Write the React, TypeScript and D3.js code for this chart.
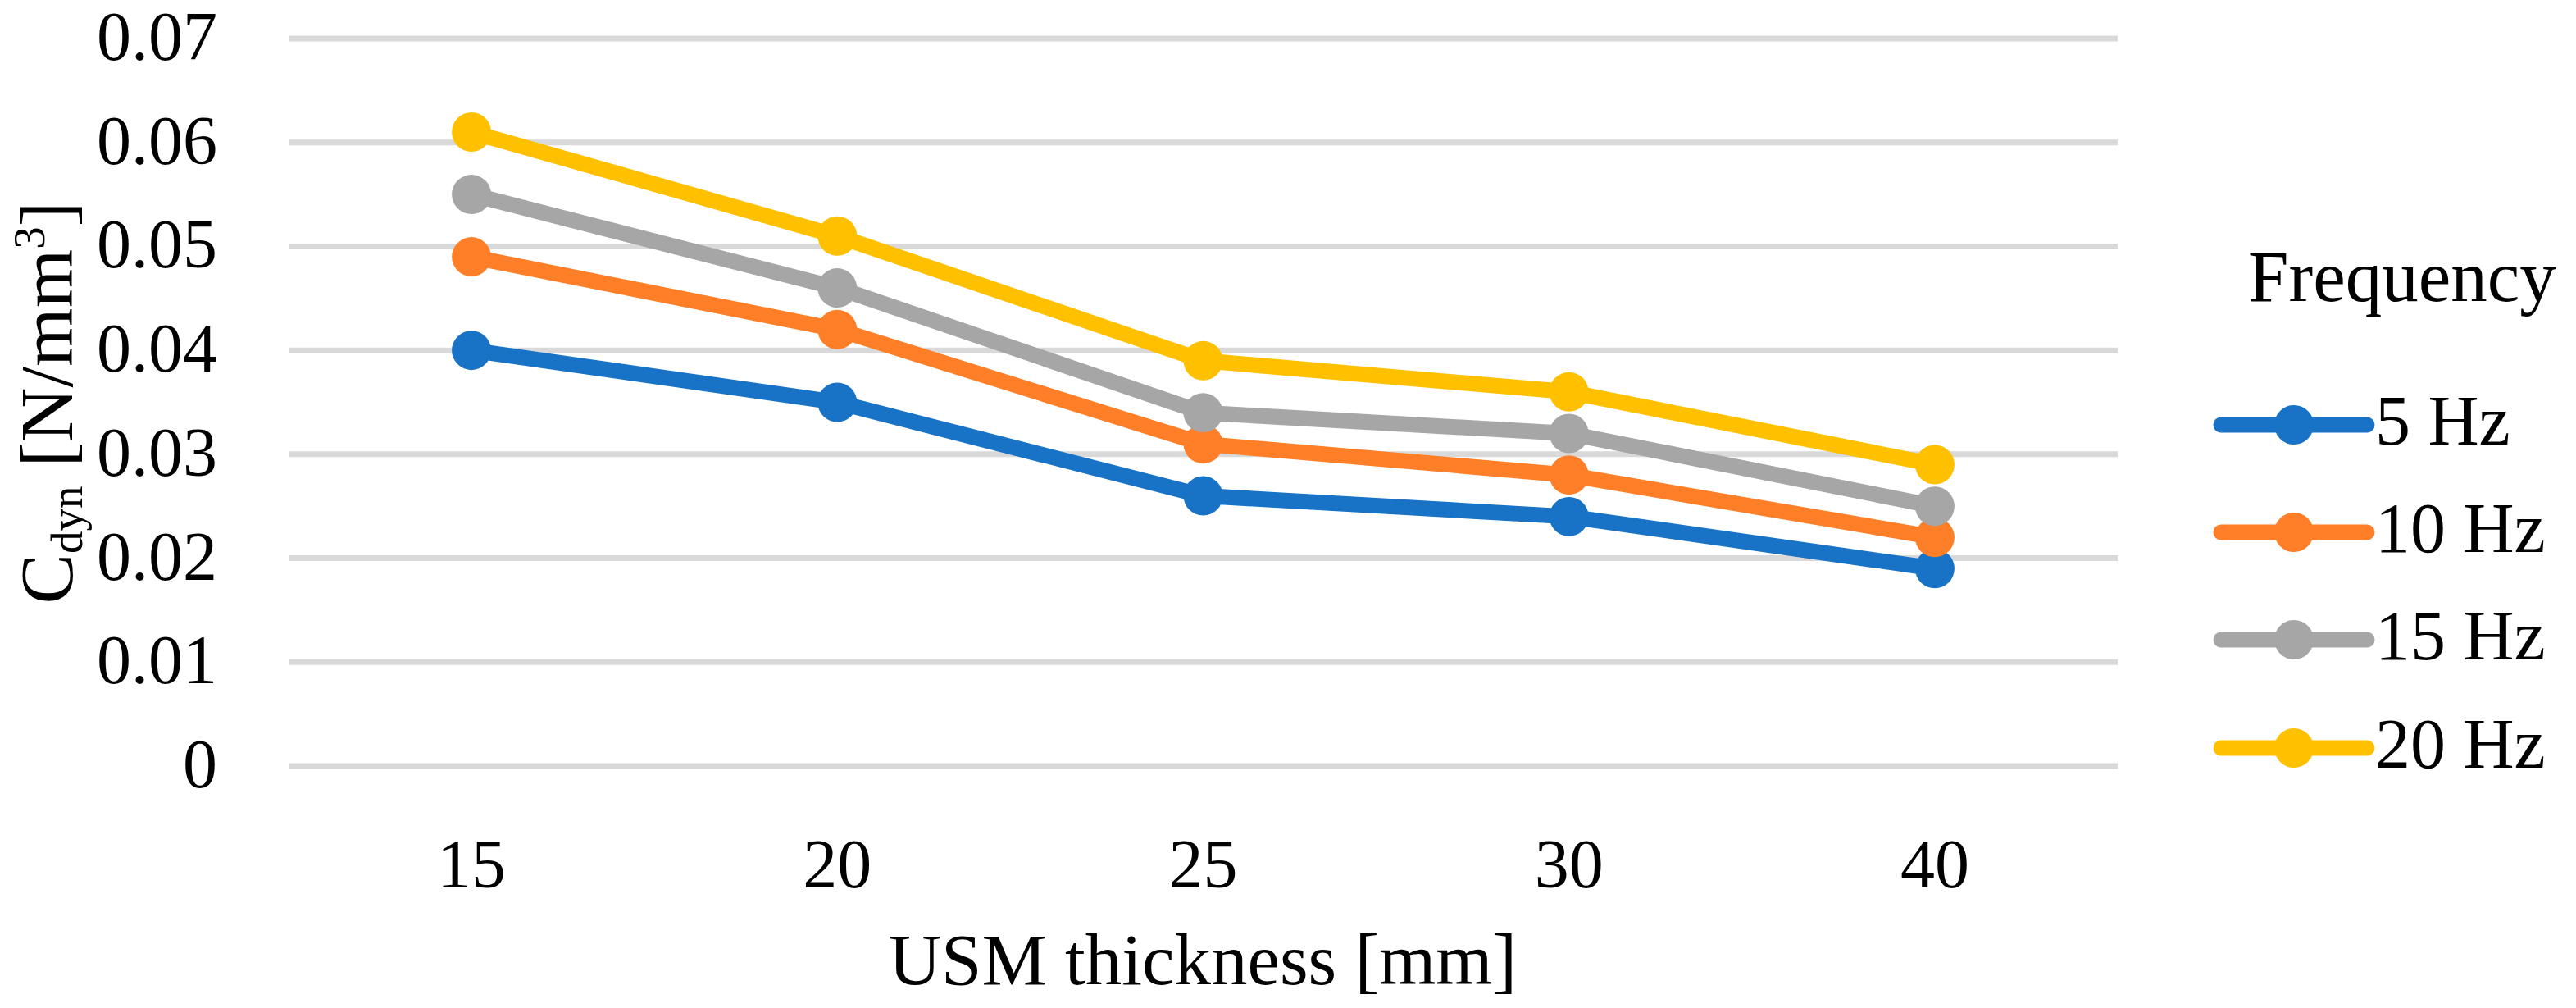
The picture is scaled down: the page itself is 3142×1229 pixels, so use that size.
import React from "react";
import * as d3 from "d3";

// USM thickness categories (x axis)
const thickness = ["15", "20", "25", "30", "40"];

// C_dyn values per frequency
const hz5 = [0.040, 0.035, 0.026, 0.024, 0.019];
const hz10 = [0.049, 0.042, 0.031, 0.028, 0.022];
const hz15 = [0.055, 0.046, 0.034, 0.032, 0.025];
const hz20 = [0.061, 0.051, 0.039, 0.036, 0.029];

const seriesNames = ["5 Hz", "10 Hz", "15 Hz", "20 Hz"];
const yTicks = [0, 0.01, 0.02, 0.03, 0.04, 0.05, 0.06, 0.07];

const colors = ["#1873C7", "#FE7F27", "#A6A6A6", "#FFC000"];

const W = 3142;
const H = 1229;
const FONT = "'Liberation Serif', 'Times New Roman', serif";

export default function App() {
    const series = [hz5, hz10, hz15, hz20].map((values, i) => ({
        name: seriesNames[i],
        color: colors[i],
        values,
    }));

    const x = d3.scaleBand().domain(thickness).range([352, 2583]).padding(0);
    const y = d3.scaleLinear().domain([0, 0.07]).range([934, 47]);
    const cx = (c: string) => (x(c) as number) + x.bandwidth() / 2;

    const line = d3
        .line<number>()
        .x((_, i) => cx(thickness[i]))
        .y((d) => y(d));

    const legendX = 2709;
    const legendY = [518, 649, 780, 912];

    return (
        <svg
            width={W}
            height={H}
            style={{ position: "absolute", left: 0, top: 0, background: "#fff" }}
            fontFamily={FONT}
        >
            <rect width={W} height={H} fill="#fff" />

            {/* gridlines */}
            {yTicks.map((t) => (
                <line
                    key={t}
                    x1={352}
                    x2={2583}
                    y1={y(t)}
                    y2={y(t)}
                    stroke="#D9D9D9"
                    strokeWidth={7}
                />
            ))}

            {/* y tick labels */}
            {yTicks.map((t) => (
                <text key={"yl" + t} x={265} y={y(t) + 26} textAnchor="end" fontSize={84}>
                    {t === 0 ? "0" : t.toFixed(2)}
                </text>
            ))}

            {/* x tick labels */}
            {thickness.map((c) => (
                <text key={"xl" + c} x={cx(c)} y={1082} textAnchor="middle" fontSize={84}>
                    {c}
                </text>
            ))}

            {/* series */}
            {series.map((s) => (
                <g key={s.name}>
                    <path
                        d={line(s.values) as string}
                        fill="none"
                        stroke={s.color}
                        strokeWidth={19}
                        strokeLinejoin="round"
                    />
                    {s.values.map((v, i) => (
                        <circle key={i} cx={cx(thickness[i])} cy={y(v)} r={24} fill={s.color} />
                    ))}
                </g>
            ))}

            {/* axis titles */}
            <text x={1467} y={1200} textAnchor="middle" fontSize={89}>
                USM thickness [mm]
            </text>
            <text transform={`translate(88, 491) rotate(-90)`} textAnchor="middle" fontSize={92}>
                C
                <tspan fontSize={55} dy={12}>dyn</tspan>
                <tspan dy={-12}> [N/mm</tspan>
                <tspan fontSize={55} dy={-34}>3</tspan>
                <tspan dy={34}>]</tspan>
            </text>

            {/* legend */}
            <text x={2742} y={367} fontSize={89}>
                Frequency
            </text>
            {series.map((s, i) => (
                <g key={"lg" + s.name} transform={`translate(0, ${legendY[i]})`}>
                    <line
                        x1={legendX}
                        x2={legendX + 178}
                        y1={0}
                        y2={0}
                        stroke={s.color}
                        strokeWidth={19}
                        strokeLinecap="round"
                    />
                    <circle cx={2798} cy={0} r={24} fill={s.color} />
                    <text x={2897} y={24} fontSize={86}>
                        {s.name}
                    </text>
                </g>
            ))}
        </svg>
    );
}
